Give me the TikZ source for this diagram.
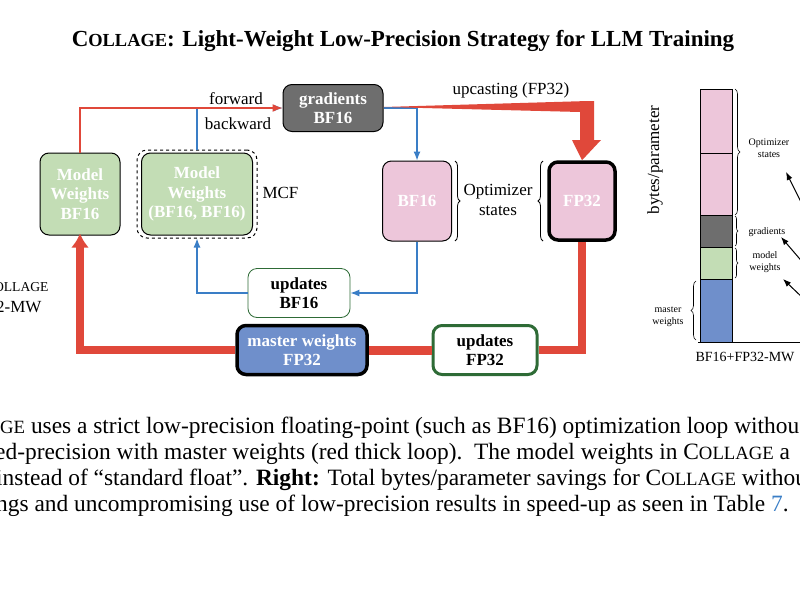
\documentclass[tikz,border=0pt]{standalone}
\usepackage{fontspec}
\usepackage{graphicx}
\setmainfont{Liberation Serif}
\usetikzlibrary{arrows.meta,decorations.pathreplacing}
\definecolor{rd}{HTML}{E0483A}
\definecolor{bl}{HTML}{3A7EC6}
\definecolor{gr}{HTML}{C3DDB5}
\definecolor{pk}{HTML}{EDC6DA}
\definecolor{gy}{HTML}{6E6E6E}
\definecolor{mb}{HTML}{6F8FCB}
\definecolor{dg}{HTML}{2E6B36}
\newcommand{\smc}[1]{\scalebox{0.8}{#1}}
\newcommand{\colsc}{C\smc{OLLAGE}}
\begin{document}
\begin{tikzpicture}[x=1pt,y=-1pt,
 box/.style={draw,rounded corners=9pt,line width=1pt,align=center,font=\bfseries\fontsize{17}{19.5}\selectfont,inner sep=0pt},
 wt/.style={text=white},
 redl/.style={rd,line width=8pt},
 bluel/.style={bl,line width=1.2pt},
 brc/.style={decorate,decoration={brace,amplitude=5pt},line width=0.8pt}]
\useasboundingbox (0,0) rectangle (800,600);
\clip (0,0) rectangle (800,600);
\node[font=\bfseries\fontsize{23}{26}\selectfont] (title) at (403,41) {\colsc: Light-Weight Low-Precision Strategy for LLM Training};
% nodes
\node[box,wt,fill=gr,minimum width=80pt,minimum height=82pt] (mw) at (80,194) {Model\\Weights\\BF16};
\node[box,wt,fill=gr,minimum width=111pt,minimum height=82pt] (mcf) at (197,194) {Model\\Weights\\(BF16, BF16)};
\node[draw,dashed,rounded corners=10pt,line width=1pt,minimum width=120pt,minimum height=88pt] (mcfd) at (197,194) {};
\node[font=\fontsize{17}{19}\selectfont,anchor=west] (mcft) at (259,193) {MCF};
\node[box,wt,fill=gy,minimum width=100pt,minimum height=47pt] (gd) at (333,108) {gradients\\BF16};
\node[box,wt,fill=pk,minimum width=69pt,minimum height=80pt] (ob) at (417,201) {BF16};
\node[box,wt,fill=pk,line width=3.5pt,minimum width=66pt,minimum height=78pt] (of) at (582,201) {FP32};
\node[font=\fontsize{17}{20}\selectfont,align=center] (os) at (498,200) {Optimizer\\states};
\draw[brc] (455,161) -- (455,241);
\draw[brc] (543,241) -- (543,161);
\node[box,draw=dg,fill=white,line width=0.8pt,minimum width=102pt,minimum height=49pt] (ub) at (299,293) {updates\\BF16};
\node[box,wt,fill=mb,line width=3.5pt,minimum width=130pt,minimum height=49pt] (ms) at (302,350) {master weights\\FP32};
\node[box,draw=dg,fill=white,line width=3pt,minimum width=104pt,minimum height=49pt] (uf) at (485,350) {updates\\FP32};
% blue connectors
\coordinate (b1) at (197,108);
\draw[bluel,-{Latex[length=9pt,width=7pt]}] (mcfd.north) -- (b1) -- (gd.west);
\draw[bluel,-{Latex[length=9pt,width=7pt]}] (gd.east) -| (ob.north);
\draw[bluel,-{Latex[length=9pt,width=7pt]}] (ob.south) |- (ub.east);
\draw[bluel,-{Latex[length=9pt,width=7pt]}] (ub.west) -| (mcfd.south);
% red thin
\draw[rd,line width=1.5pt,-{Latex[length=10pt,width=8pt]}] (mw.north) |- (gd.west);
\node[font=\fontsize{17}{19}\selectfont] (fw) at (236,99) {forward};
\node[font=\fontsize{17}{19}\selectfont] (bw) at (238,124) {backward};
% upcasting tapered
\fill[rd] (gd.east) ++(0,-1) -- (588,101) -- (594,101) -- (594,140) -- (601,140) -- (of.north) -- (572,140) -- (580,140) -- (580,112) -- cycle;
\node[font=\fontsize{17}{19}\selectfont] (up) at (511,90) {upcasting (FP32)};
% red thick loop
\draw[redl] (of.south) |- (uf.east);
\draw[rd,line width=9pt] (uf.west) -- (ms.east);
\coordinate (r1) at (80,350);
\draw[redl,-{Latex[length=14pt,width=18pt]}] (ms.west) -- (r1) -- ([yshift=2pt]mw.south);
\node[font=\fontsize{17}{19}\selectfont,anchor=east] (c1) at (52,286) {BF16+\colsc};
\node[font=\fontsize{17}{19}\selectfont,anchor=east] (c2) at (45,307) {BF16+FP32-MW};
% bar chart
\draw[line width=0.8pt,fill=pk] (700,89) rectangle (732,153);
\draw[line width=0.8pt,fill=pk] (700,153) rectangle (732,215);
\draw[line width=0.8pt,fill=gy] (700,215) rectangle (732,247);
\draw[line width=0.8pt,fill=gr] (700,247) rectangle (732,279);
\draw[line width=0.8pt,fill=mb] (700,279) rectangle (732,342);
\draw[line width=0.8pt] (698,342) -- (800,342);
\node[rotate=90,font=\fontsize{17}{19}\selectfont] (yl) at (655,160) {bytes/parameter};
\node[font=\fontsize{14}{17}\selectfont] (xl) at (745,357) {BF16+FP32-MW};
\draw[brc,line width=0.6pt] (735,89) -- (735,215);
\draw[brc,line width=0.6pt,decoration={amplitude=3pt}] (735,216) -- (735,246);
\draw[brc,line width=0.6pt,decoration={amplitude=3pt}] (735,248) -- (735,278);
\draw[brc,line width=0.6pt] (696,340) -- (696,281);
\node[font=\fontsize{10}{12}\selectfont,align=center] (l1) at (769,148) {Optimizer\\states};
\node[font=\fontsize{10}{12}\selectfont] (l2) at (767,232) {gradients};
\node[font=\fontsize{10}{12}\selectfont,align=center] (l3) at (765,262) {model\\weights};
\node[font=\fontsize{10}{12}\selectfont,align=center] (l4) at (668,317) {master\\weights};
\coordinate (a1) at (805,210);
\coordinate (a2) at (805,265);
\coordinate (a3) at (805,300);
\draw[line width=1pt,-{Latex[length=8pt,width=6pt]}] (a1) -- (786,172);
\draw[line width=1pt,-{Latex[length=8pt,width=6pt]}] (a2) -- (781,237);
\draw[line width=1pt,-{Latex[length=8pt,width=6pt]}] (a3) -- (783,279);
% caption
\begin{scope}[every node/.style={anchor=west,font=\fontsize{23.4}{26}\selectfont,inner sep=0pt}]
\node (t1) at (0,428) {\smc{GE} uses a strict low-precision floating-point (such as BF16) optimization loop withou};
\node (t2) at (-5,454) {ed-precision with master weights (red thick loop).\ \ The model weights in \colsc\ a};
\node (t3) at (-4,480) {instead of “standard float”. \textbf{Right:} Total bytes/parameter savings for \colsc\ without t};
\node (t4) at (-4,506) {ngs and uncompromising use of low-precision results in speed-up as seen in Table \textcolor{bl}{7}.};
\end{scope}
\end{tikzpicture}
\end{document}
